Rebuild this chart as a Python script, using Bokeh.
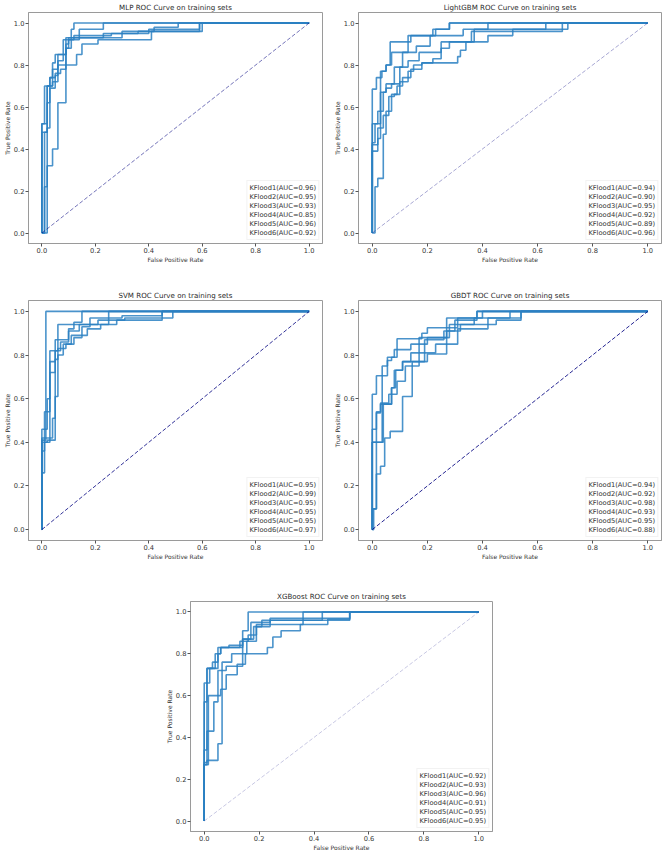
from bokeh.plotting import figure
from bokeh.layouts import column, row, Spacer
from bokeh.models import Legend, LegendItem, FixedTicker, Range1d, PrintfTickFormatter
from bokeh.embed import file_html
from bokeh.resources import INLINE

FOLDS = ["KFlood1", "KFlood2", "KFlood3", "KFlood4", "KFlood5", "KFlood6"]
TICKS = [0.0, 0.2, 0.4, 0.6, 0.8, 1.0]
DIAG = [0.0, 1.0]

# ---------------- MLP ----------------
MLP_AUC = [0.96, 0.95, 0.93, 0.85, 0.96, 0.92]
mlp_fpr_1 = [0, 0, 0.02, 0.02, 0.04, 0.04, 0.05, 0.05, 0.09, 0.09, 0.11, 0.11, 0.12, 0.12, 1]
mlp_tpr_1 = [0, 0.52, 0.52, 0.70, 0.70, 0.81, 0.81, 0.85, 0.85, 0.93, 0.93, 0.97, 0.97, 1.0, 1]
mlp_fpr_2 = [0, 0, 0.02, 0.02, 0.03, 0.03, 0.05, 0.05, 0.07, 0.07, 0.09, 0.09, 0.10, 0.10, 0.14, 0.14, 0.23, 0.23, 1]
mlp_tpr_2 = [0, 0.48, 0.48, 0.62, 0.62, 0.74, 0.74, 0.76, 0.76, 0.78, 0.78, 0.88, 0.88, 0.92, 0.92, 0.97, 0.97, 1.0, 1]
mlp_fpr_3 = [0, 0.01, 0.01, 0.02, 0.02, 0.03, 0.03, 0.05, 0.05, 0.06, 0.06, 0.09, 0.09, 0.10, 0.10, 0.30, 0.30, 0.42, 0.42, 0.51, 0.51, 1]
mlp_tpr_3 = [0, 0, 0.22, 0.22, 0.50, 0.50, 0.69, 0.69, 0.75, 0.75, 0.85, 0.85, 0.90, 0.90, 0.93, 0.93, 0.96, 0.96, 0.98, 0.98, 1.0, 1]
mlp_fpr_4 = [0, 0.02, 0.02, 0.04, 0.04, 0.06, 0.06, 0.09, 0.09, 0.13, 0.13, 0.15, 0.15, 0.21, 0.21, 0.41, 0.41, 0.60, 0.60, 1]
mlp_tpr_4 = [0, 0, 0.32, 0.32, 0.40, 0.40, 0.62, 0.62, 0.80, 0.80, 0.85, 0.85, 0.90, 0.90, 0.92, 0.92, 0.96, 0.96, 1.0, 1]
mlp_fpr_5 = [0, 0, 0.01, 0.01, 0.03, 0.03, 0.04, 0.04, 0.06, 0.06, 0.08, 0.08, 0.12, 0.12, 0.26, 0.26, 0.40, 0.40, 0.59, 0.59, 1]
mlp_tpr_5 = [0, 0.52, 0.52, 0.70, 0.70, 0.74, 0.74, 0.78, 0.78, 0.82, 0.82, 0.92, 0.92, 0.94, 0.94, 0.95, 0.95, 0.97, 0.97, 1.0, 1]
mlp_fpr_6 = [0, 0.01, 0.01, 0.02, 0.02, 0.04, 0.04, 0.06, 0.06, 0.09, 0.09, 0.11, 0.11, 0.23, 0.23, 0.36, 0.36, 0.59, 0.59, 1]
mlp_tpr_6 = [0, 0, 0.48, 0.48, 0.70, 0.70, 0.72, 0.72, 0.80, 0.80, 0.88, 0.88, 0.93, 0.93, 0.95, 0.95, 0.96, 0.96, 1.0, 1]

# ---------------- LightGBM ----------------
LGB_AUC = [0.94, 0.90, 0.95, 0.92, 0.89, 0.96]
lgb_fpr_1 = [0, 0, 0.02, 0.02, 0.04, 0.04, 0.05, 0.05, 0.08, 0.08, 0.11, 0.11, 0.16, 0.16, 0.21, 0.21, 0.33, 0.33, 0.42, 0.42, 1]
lgb_tpr_1 = [0, 0.52, 0.52, 0.58, 0.58, 0.67, 0.67, 0.71, 0.71, 0.79, 0.79, 0.86, 0.86, 0.89, 0.89, 0.94, 0.94, 0.97, 0.97, 1.0, 1]
lgb_fpr_2 = [0, 0.01, 0.01, 0.02, 0.02, 0.04, 0.04, 0.05, 0.05, 0.06, 0.06, 0.08, 0.08, 0.10, 0.10, 0.13, 0.13, 0.15, 0.15, 0.18, 0.18, 0.31, 0.31, 0.32, 0.32, 0.34, 0.34, 0.42, 0.42, 0.51, 0.51, 0.71, 0.71, 1]
lgb_tpr_2 = [0, 0, 0.22, 0.22, 0.26, 0.26, 0.47, 0.47, 0.56, 0.56, 0.65, 0.65, 0.66, 0.66, 0.72, 0.72, 0.77, 0.77, 0.80, 0.80, 0.81, 0.81, 0.84, 0.84, 0.87, 0.87, 0.91, 0.91, 0.94, 0.94, 0.97, 0.97, 1.0, 1]
lgb_fpr_3 = [0, 0, 0.01, 0.01, 0.03, 0.03, 0.05, 0.05, 0.07, 0.07, 0.13, 0.13, 0.22, 0.22, 0.28, 0.28, 1]
lgb_tpr_3 = [0, 0.43, 0.43, 0.52, 0.52, 0.77, 0.77, 0.80, 0.80, 0.86, 0.86, 0.94, 0.94, 0.97, 0.97, 1.0, 1]
lgb_fpr_4 = [0, 0, 0.02, 0.02, 0.03, 0.03, 0.05, 0.05, 0.07, 0.07, 0.10, 0.10, 0.13, 0.13, 0.17, 0.17, 0.25, 0.25, 0.37, 0.37, 0.63, 0.63, 1]
lgb_tpr_4 = [0, 0.39, 0.39, 0.45, 0.45, 0.67, 0.67, 0.69, 0.69, 0.71, 0.71, 0.79, 0.79, 0.82, 0.82, 0.86, 0.86, 0.91, 0.91, 0.97, 0.97, 1.0, 1]
lgb_fpr_5 = [0, 0, 0.02, 0.02, 0.04, 0.04, 0.05, 0.05, 0.07, 0.07, 0.09, 0.09, 0.11, 0.11, 0.14, 0.14, 0.18, 0.18, 0.22, 0.22, 0.25, 0.25, 0.28, 0.28, 0.36, 0.36, 0.69, 0.69, 1]
lgb_tpr_5 = [0, 0.42, 0.42, 0.50, 0.50, 0.56, 0.56, 0.58, 0.58, 0.66, 0.66, 0.70, 0.70, 0.74, 0.74, 0.78, 0.78, 0.81, 0.81, 0.83, 0.83, 0.88, 0.88, 0.91, 0.91, 0.96, 0.96, 1.0, 1]
lgb_fpr_6 = [0, 0, 0.015, 0.015, 0.035, 0.035, 0.05, 0.05, 0.065, 0.065, 0.14, 0.14, 0.23, 0.23, 0.28, 0.28, 1]
lgb_tpr_6 = [0, 0.685, 0.685, 0.74, 0.74, 0.77, 0.77, 0.80, 0.80, 0.91, 0.91, 0.94, 0.94, 0.97, 0.97, 1.0, 1]

# ---------------- SVM ----------------
SVM_AUC = [0.95, 0.99, 0.95, 0.95, 0.95, 0.97]
svm_fpr_1 = [0, 0, 0.02, 0.02, 0.03, 0.03, 0.05, 0.05, 0.07, 0.07, 0.10, 0.10, 0.14, 0.14, 0.21, 0.21, 0.31, 0.31, 0.45, 0.45, 1]
svm_tpr_1 = [0, 0.46, 0.46, 0.60, 0.60, 0.77, 0.77, 0.82, 0.82, 0.86, 0.86, 0.91, 0.91, 0.94, 0.94, 0.96, 0.96, 0.97, 0.97, 1.0, 1]
svm_fpr_2 = [0, 0, 0.015, 0.015, 1]
svm_tpr_2 = [0, 0.41, 0.41, 1.0, 1]
svm_fpr_3 = [0, 0, 0.01, 0.01, 0.03, 0.03, 0.05, 0.05, 0.10, 0.10, 0.12, 0.12, 0.15, 0.15, 1]
svm_tpr_3 = [0, 0.36, 0.36, 0.54, 0.54, 0.72, 0.72, 0.87, 0.87, 0.92, 0.92, 0.95, 0.95, 1.0, 1]
svm_fpr_4 = [0, 0, 0.01, 0.01, 0.03, 0.03, 0.06, 0.06, 0.25, 0.25, 1]
svm_tpr_4 = [0, 0.26, 0.26, 0.40, 0.40, 0.82, 0.82, 0.94, 0.94, 1.0, 1]
svm_fpr_5 = [0, 0, 0.02, 0.02, 0.05, 0.05, 0.06, 0.06, 0.08, 0.08, 0.11, 0.11, 0.17, 0.17, 0.22, 0.22, 0.28, 0.28, 0.45, 0.45, 0.49, 0.49, 1]
svm_tpr_5 = [0, 0.40, 0.40, 0.41, 0.41, 0.61, 0.61, 0.80, 0.80, 0.85, 0.85, 0.89, 0.89, 0.92, 0.92, 0.94, 0.94, 0.96, 0.96, 0.97, 0.97, 1.0, 1]
svm_fpr_6 = [0, 0, 0.04, 0.04, 0.05, 0.05, 0.06, 0.06, 0.09, 0.09, 0.12, 0.12, 0.15, 0.15, 0.18, 0.18, 0.30, 0.30, 0.45, 0.45, 1]
svm_tpr_6 = [0, 0.42, 0.42, 0.51, 0.51, 0.78, 0.78, 0.83, 0.83, 0.85, 0.85, 0.88, 0.88, 0.93, 0.93, 0.97, 0.97, 0.98, 0.98, 1.0, 1]

# ---------------- GBDT ----------------
GBDT_AUC = [0.94, 0.92, 0.98, 0.93, 0.95, 0.88]
gb_fpr_1 = [0, 0, 0.015, 0.015, 0.055, 0.055, 0.07, 0.07, 0.08, 0.08, 0.14, 0.14, 0.20, 0.20, 0.27, 0.27, 0.30, 0.30, 0.38, 0.38, 1]
gb_tpr_1 = [0, 0.62, 0.62, 0.705, 0.705, 0.775, 0.775, 0.79, 0.79, 0.825, 0.825, 0.85, 0.85, 0.88, 0.88, 0.91, 0.91, 0.96, 0.96, 1.0, 1]
gb_fpr_2 = [0, 0, 0.015, 0.015, 0.03, 0.03, 0.07, 0.07, 0.085, 0.085, 0.11, 0.11, 0.19, 0.19, 0.26, 0.26, 0.28, 0.28, 0.45, 0.45, 0.54, 0.54, 1]
gb_tpr_2 = [0, 0.46, 0.46, 0.535, 0.535, 0.575, 0.575, 0.65, 0.65, 0.73, 0.73, 0.77, 0.77, 0.87, 0.87, 0.88, 0.88, 0.94, 0.94, 0.96, 0.96, 1.0, 1]
gb_fpr_3 = [0, 0, 0.036, 0.036, 0.055, 0.055, 0.09, 0.09, 0.18, 0.18, 0.20, 0.20, 0.31, 0.31, 0.38, 0.38, 1]
gb_tpr_3 = [0, 0.40, 0.40, 0.75, 0.75, 0.79, 0.79, 0.875, 0.875, 0.90, 0.90, 0.925, 0.925, 0.97, 0.97, 1.0, 1]
gb_fpr_4 = [0, 0.005, 0.005, 0.015, 0.015, 0.03, 0.03, 0.045, 0.045, 0.065, 0.065, 0.11, 0.11, 0.145, 0.145, 0.20, 0.20, 0.27, 0.27, 0.40, 0.40, 1]
gb_tpr_4 = [0, 0, 0.095, 0.095, 0.255, 0.255, 0.29, 0.29, 0.42, 0.42, 0.45, 0.45, 0.61, 0.61, 0.77, 0.77, 0.805, 0.805, 0.97, 0.97, 1.0, 1]
gb_fpr_5 = [0, 0, 0.04, 0.04, 0.07, 0.07, 0.08, 0.08, 0.11, 0.11, 0.14, 0.14, 0.17, 0.17, 0.26, 0.26, 0.32, 0.32, 0.37, 0.37, 0.50, 0.50, 1]
gb_tpr_5 = [0, 0.40, 0.40, 0.575, 0.575, 0.65, 0.65, 0.73, 0.73, 0.77, 0.77, 0.81, 0.81, 0.88, 0.88, 0.91, 0.91, 0.94, 0.94, 0.97, 0.97, 1.0, 1]
gb_fpr_6 = [0, 0, 0.015, 0.015, 0.03, 0.03, 0.06, 0.06, 0.09, 0.09, 0.12, 0.12, 0.17, 0.17, 0.23, 0.23, 0.31, 0.31, 0.42, 0.42, 0.54, 0.54, 1]
gb_tpr_6 = [0, 0.095, 0.095, 0.54, 0.54, 0.58, 0.58, 0.62, 0.62, 0.68, 0.68, 0.75, 0.75, 0.81, 0.81, 0.85, 0.85, 0.92, 0.92, 0.97, 0.97, 1.0, 1]

# ---------------- XGBoost ----------------
XGB_AUC = [0.92, 0.93, 0.96, 0.91, 0.95, 0.95]
xgb_fpr_1 = [0, 0, 0.01, 0.01, 0.05, 0.05, 0.065, 0.065, 0.10, 0.10, 0.155, 0.155, 0.19, 0.19, 0.36, 0.36, 1]
xgb_tpr_1 = [0, 0.27, 0.27, 0.29, 0.29, 0.37, 0.37, 0.76, 0.76, 0.80, 0.80, 0.86, 0.86, 0.94, 0.94, 1.0, 1]
xgb_fpr_2 = [0, 0, 0.01, 0.01, 0.035, 0.035, 0.05, 0.05, 0.08, 0.08, 0.14, 0.14, 0.16, 0.16, 0.19, 0.19, 0.24, 0.24, 0.53, 0.53, 1]
xgb_tpr_2 = [0, 0.34, 0.34, 0.43, 0.43, 0.57, 0.57, 0.72, 0.72, 0.74, 0.74, 0.86, 0.86, 0.89, 0.89, 0.93, 0.93, 0.96, 0.96, 1.0, 1]
xgb_fpr_3 = [0, 0, 0.01, 0.01, 0.05, 0.05, 0.06, 0.06, 0.13, 0.13, 0.14, 0.14, 0.16, 0.16, 1]
xgb_tpr_3 = [0, 0.57, 0.57, 0.73, 0.73, 0.80, 0.80, 0.83, 0.83, 0.86, 0.86, 0.91, 0.91, 1.0, 1]
xgb_fpr_4 = [0, 0, 0.015, 0.015, 0.06, 0.06, 0.08, 0.08, 0.12, 0.12, 0.15, 0.15, 0.23, 0.23, 0.25, 0.25, 0.28, 0.28, 0.35, 0.35, 0.45, 0.45, 0.53, 0.53, 1]
xgb_tpr_4 = [0, 0.27, 0.27, 0.60, 0.60, 0.63, 0.63, 0.70, 0.70, 0.75, 0.75, 0.80, 0.80, 0.83, 0.83, 0.88, 0.88, 0.91, 0.91, 0.94, 0.94, 0.965, 0.965, 1.0, 1]
xgb_fpr_5 = [0, 0, 0.02, 0.02, 0.04, 0.04, 0.06, 0.06, 0.14, 0.14, 0.18, 0.18, 0.21, 0.21, 0.43, 0.43, 1]
xgb_tpr_5 = [0, 0.66, 0.66, 0.73, 0.73, 0.80, 0.80, 0.83, 0.83, 0.87, 0.87, 0.93, 0.93, 0.96, 0.96, 1.0, 1]
xgb_fpr_6 = [0, 0, 0.01, 0.01, 0.03, 0.03, 0.05, 0.05, 0.09, 0.09, 0.14, 0.14, 0.17, 0.17, 0.24, 0.24, 0.53, 0.53, 1]
xgb_tpr_6 = [0, 0.28, 0.28, 0.73, 0.73, 0.76, 0.76, 0.83, 0.83, 0.84, 0.84, 0.87, 0.87, 0.95, 0.95, 0.97, 0.97, 1.0, 1]

FONT = "DejaVu Sans"
FS = "6.7px"
TITLE_FS = "7.1px"
CURVE_COLOR = "#2a80c2"
SPINE = "#9a9a9a"


def make_panel(title, fprs, tprs, aucs, diag_alpha, w, h, l, r, t, b):
    p = figure(width=w, height=h, title=title,
               x_range=Range1d(-0.05, 1.05), y_range=Range1d(-0.05, 1.05),
               output_backend="svg", toolbar_location=None,
               min_border_left=l, min_border_right=r,
               min_border_top=t, min_border_bottom=b)
    p.title.text_font = FONT
    p.title.text_font_size = TITLE_FS
    p.title.text_font_style = "normal"
    p.title.text_color = "#2a2a2a"
    p.title.align = "center"
    p.title.standoff = 1
    p.grid.visible = False
    p.outline_line_color = SPINE
    p.outline_line_width = 1
    for ax in (p.xaxis[0], p.yaxis[0]):
        ax.ticker = FixedTicker(ticks=TICKS)
        ax.formatter = PrintfTickFormatter(format="%.1f")
        ax.axis_line_color = SPINE
        ax.major_tick_line_color = "#555555"
        ax.major_tick_out = 3
        ax.major_tick_in = 0
        ax.minor_tick_line_color = None
        ax.major_label_text_font = FONT
        ax.major_label_text_font_size = FS
        ax.major_label_text_color = "#333333"
        ax.major_label_standoff = 1
        ax.axis_label_text_font = FONT
        ax.axis_label_text_font_size = "6px"
        ax.axis_label_text_font_style = "normal"
        ax.axis_label_text_color = "#333333"
        ax.axis_label_standoff = 0
    p.xaxis.axis_label = "False Positive Rate"
    p.yaxis.axis_label = "True Positive Rate"

    items = []
    for k, (fx, ty) in enumerate(zip(fprs, tprs)):
        rr = p.line(fx, ty, line_color=CURVE_COLOR, line_width=1.6, line_alpha=0.85)
        items.append(LegendItem(label="%s(AUC=%.2f)" % (FOLDS[k], aucs[k]), renderers=[rr]))
    p.line(DIAG, DIAG, line_color="navy", line_alpha=diag_alpha, line_width=1, line_dash="4 2")

    leg = Legend(items=items, location="bottom_right",
                 glyph_width=0, glyph_height=9, label_height=9, label_standoff=0,
                 spacing=0, padding=2, margin=3,
                 label_text_font=FONT, label_text_font_size=FS, label_text_color="#333333",
                 border_line_color="#e6e6e6", background_fill_alpha=0.85)
    p.add_layout(leg)
    return p


p1 = make_panel("MLP ROC Curve on training sets",
                [mlp_fpr_1, mlp_fpr_2, mlp_fpr_3, mlp_fpr_4, mlp_fpr_5, mlp_fpr_6],
                [mlp_tpr_1, mlp_tpr_2, mlp_tpr_3, mlp_tpr_4, mlp_tpr_5, mlp_tpr_6],
                MLP_AUC, 0.55, 330, 287, 23, 8, 10, 44)
p2 = make_panel("LightGBM ROC Curve on training sets",
                [lgb_fpr_1, lgb_fpr_2, lgb_fpr_3, lgb_fpr_4, lgb_fpr_5, lgb_fpr_6],
                [lgb_tpr_1, lgb_tpr_2, lgb_tpr_3, lgb_tpr_4, lgb_tpr_5, lgb_tpr_6],
                LGB_AUC, 0.35, 338, 287, 26, 7, 10, 44)
p3 = make_panel("SVM ROC Curve on training sets",
                [svm_fpr_1, svm_fpr_2, svm_fpr_3, svm_fpr_4, svm_fpr_5, svm_fpr_6],
                [svm_tpr_1, svm_tpr_2, svm_tpr_3, svm_tpr_4, svm_tpr_5, svm_tpr_6],
                SVM_AUC, 0.8, 330, 298, 23, 8, 13, 45)
p4 = make_panel("GBDT ROC Curve on training sets",
                [gb_fpr_1, gb_fpr_2, gb_fpr_3, gb_fpr_4, gb_fpr_5, gb_fpr_6],
                [gb_tpr_1, gb_tpr_2, gb_tpr_3, gb_tpr_4, gb_tpr_5, gb_tpr_6],
                GBDT_AUC, 0.85, 338, 298, 26, 7, 13, 45)
p5 = make_panel("XGBoost ROC Curve on training sets",
                [xgb_fpr_1, xgb_fpr_2, xgb_fpr_3, xgb_fpr_4, xgb_fpr_5, xgb_fpr_6],
                [xgb_tpr_1, xgb_tpr_2, xgb_tpr_3, xgb_tpr_4, xgb_tpr_5, xgb_tpr_6],
                XGB_AUC, 0.22, 350, 268, 26, 20, 16, 20)

layout = column(row(p1, p2), row(p3, p4), row(Spacer(width=162, height=268), p5))

open("out.html", "w").write(file_html(layout, INLINE))
